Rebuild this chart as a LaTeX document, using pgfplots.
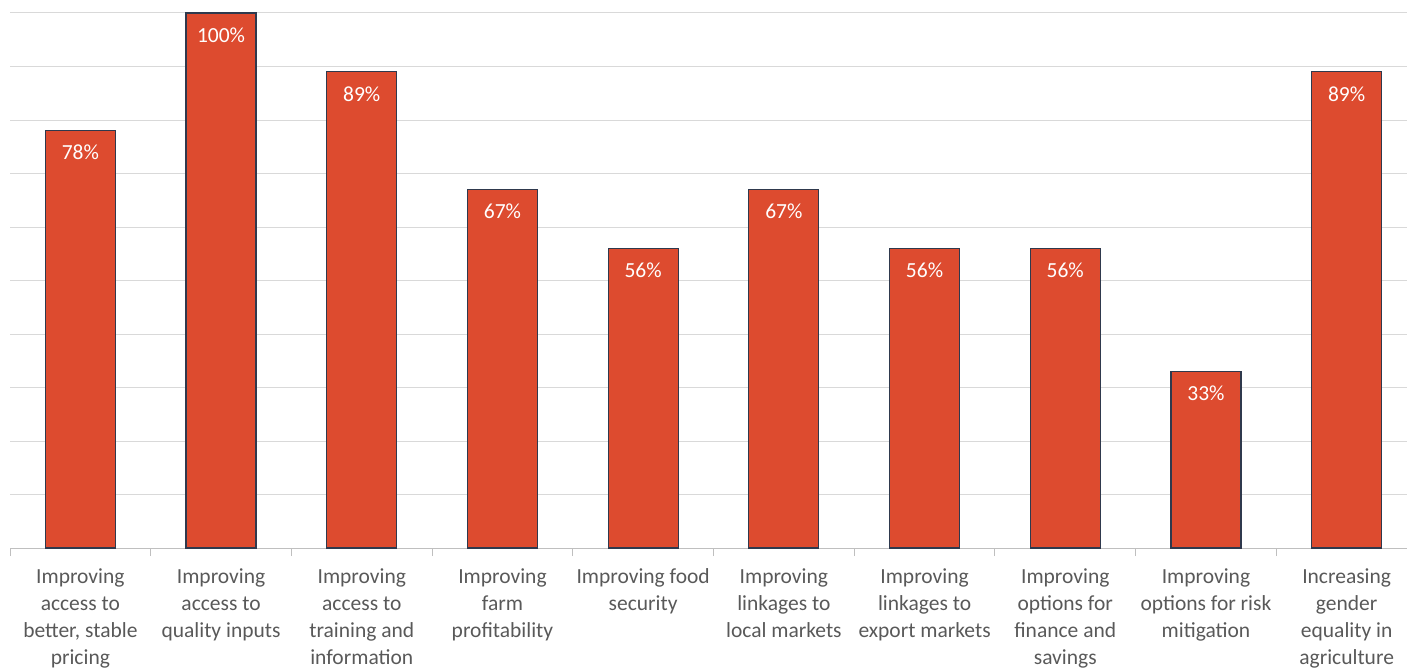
\documentclass[border=0pt]{standalone}
\usepackage{fontspec}
\setmainfont{Carlito}
\usepackage{pgfplots}
\pgfplotsset{compat=1.18}
\definecolor{barred}{RGB}{221,75,47}
\definecolor{baredge}{RGB}{47,57,77}
\definecolor{gridgray}{RGB}{217,217,217}
\definecolor{axisgray}{RGB}{191,191,191}
\definecolor{labgray}{RGB}{89,89,89}
\begin{document}
\begin{tikzpicture}
\begin{axis}[
  scale only axis, width=1407bp, height=535bp,
  xmin=-0.5, xmax=9.5, ymin=0, ymax=100,
  axis x line*=bottom, axis y line*=left,
  y axis line style={draw=none},
  x axis line style={draw=axisgray, line width=1bp},
  ytick={0,10,...,100}, yticklabels={}, ytick style={draw=none},
  ymajorgrids, grid style={draw=gridgray, line width=1bp},
  xtick={0,...,9},
  minor xtick={-0.5,0.5,...,9.5},
  major tick length=0pt, minor tick length=8bp, tick align=outside,
  minor x tick style={draw=axisgray, line width=1bp},
  xticklabels={
    {Improving\\access to\\better, stable\\pricing},
    {Improving\\access to\\quality inputs},
    {Improving\\access to\\training and\\information},
    {Improving\\farm\\profitability},
    {Improving food\\security},
    {Improving\\linkages to\\local markets},
    {Improving\\linkages to\\export markets},
    {Improving\\options for\\finance and\\savings},
    {Improving\\options for risk\\mitigation},
    {Increasing\\gender\\equality in\\agriculture}},
  xticklabel style={align=center, text=labgray, font=\fontsize{21.5bp}{27bp}\selectfont, yshift=-17bp},
  /pgf/number format/assume math mode=true,
  ybar, bar width=70bp,
  nodes near coords={\pgfmathprintnumber{\pgfplotspointmeta}\%},
  every node near coord/.append style={anchor=center, yshift=-22bp, text=white, font=\fontsize{21.5bp}{27bp}\selectfont},
]
\addplot[fill=barred, draw=baredge, line width=1.2bp] coordinates {
  (0,78) (1,100) (2,89) (3,67) (4,56) (5,67) (6,56) (7,56) (8,33) (9,89)};
\end{axis}
\pgfresetboundingbox
\path[use as bounding box] ([xshift=-10bp,yshift=-120bp]current axis.south west) rectangle ([xshift=-10bp,yshift=13bp]current axis.north east);
\end{tikzpicture}
\end{document}
